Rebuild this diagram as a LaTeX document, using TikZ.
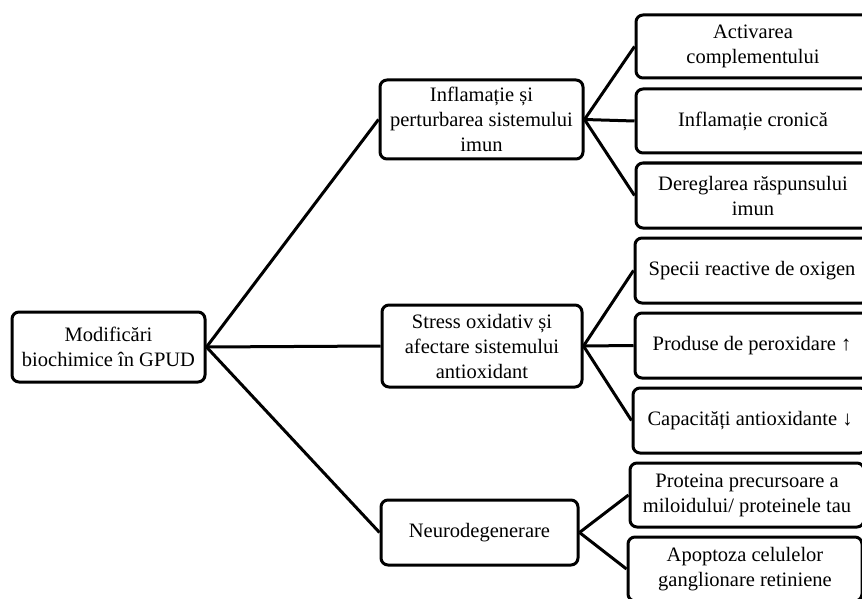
\documentclass[tikz,border=0pt]{standalone}
\usepackage{fontspec}
\setmainfont{Liberation Serif}
\begin{document}
\begin{tikzpicture}[x=1pt,y=-1pt,
  box/.style={draw, line width=3pt, rounded corners=7pt, align=center, inner sep=0pt,
    font=\fontsize{20.5}{25}\selectfont},
  leaf/.style={box, minimum width=234pt, minimum height=64pt},
  conn/.style={line width=3pt}]
\useasboundingbox (0,0) rectangle (862,599);
\clip (0,0) rectangle (862,599);
\node[box, minimum width=193pt, minimum height=70pt] (root) at (108.5,347) {Modificări\\biochimice în GPUD};
\node[box, minimum width=203pt, minimum height=79pt] (inf) at (481.5,119.5) {Inflamație și\\perturbarea sistemului\\imun};
\node[box, minimum width=200pt, minimum height=82pt] (str) at (482,346) {Stress oxidativ și\\afectare sistemului\\antioxidant};
\node[box, minimum width=197pt, minimum height=65pt] (neu) at (479.5,532.5) {Neurodegenerare};
\node[leaf, minimum height=63pt] (b1) at (753,46.5) {Activarea\\complementului};
\node[leaf] (b2) at (753,121) {Inflamație cronică};
\node[leaf, minimum height=65pt] (b3) at (753,195.5) {Dereglarea răspunsului\\imun};
\node[leaf, minimum height=65pt] (b4) at (752,270.5) {Specii reactive de oxigen};
\node[leaf, minimum height=65pt] (b5) at (752,345.5) {Produse de peroxidare ↑};
\node[leaf, minimum height=65pt] (b6) at (750,420.5) {Capacități antioxidante ↓};
\node[leaf] (b7) at (747,495) {Proteina precursoare a\\miloidului/ proteinele tau};
\node[leaf] (b8) at (745,569) {Apoptoza celulelor\\ganglionare retiniene};
\draw[conn] (root.east) -- (inf.west);
\draw[conn] (root.east) -- (str.west);
\draw[conn] (root.east) -- (neu.west);
\draw[conn] (inf.east) -- (b1.west);
\draw[conn] (inf.east) -- (b2.west);
\draw[conn] (inf.east) -- (b3.west);
\draw[conn] (str.east) -- (b4.west);
\draw[conn] (str.east) -- (b5.west);
\draw[conn] (str.east) -- (b6.west);
\draw[conn] (neu.east) -- (b7.west);
\draw[conn] (neu.east) -- (b8.west);
\end{tikzpicture}
\end{document}
